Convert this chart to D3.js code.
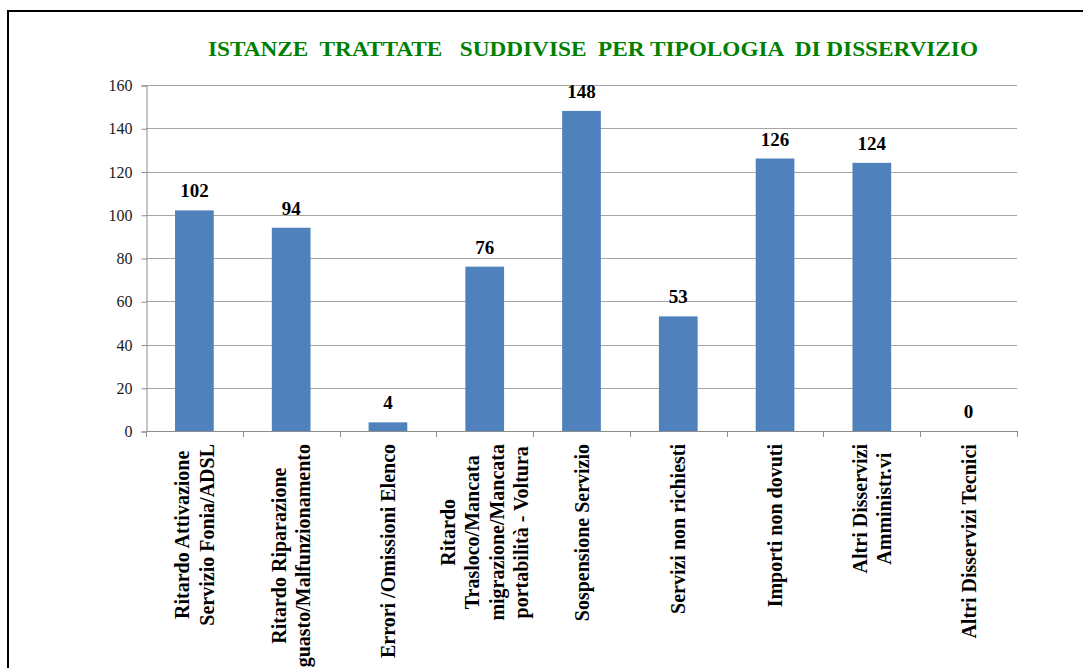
<!DOCTYPE html>
<html>
<head>
<meta charset="utf-8">
<script src="https://cdn.jsdelivr.net/npm/d3@7"></script>
<style>
  body { margin: 0; background: #fff; }
  svg { display: block; }
</style>
</head>
<body>
<script>
var categories = [
  ["Ritardo Attivazione", "Servizio Fonia/ADSL"],
  ["Ritardo Riparazione", "guasto/Malfunzionamento"],
  ["Errori /Omissioni Elenco"],
  ["Ritardo", "Trasloco/Mancata", "migrazione/Mancata", "portabilità - Voltura"],
  ["Sospensione Servizio"],
  ["Servizi non richiesti"],
  ["Importi non dovuti"],
  ["Altri Disservizi", "Amministr.vi"],
  ["Altri Disservizi Tecnici"]
];
var values = [102, 94, 4, 76, 148, 53, 126, 124, 0];
var yTicks = [0, 20, 40, 60, 80, 100, 120, 140, 160];
var title = "ISTANZE  TRATTATE   SUDDIVISE  PER TIPOLOGIA  DI DISSERVIZIO";

var W = 1083, H = 668;
var plotLeft = 146, plotRight = 1017, plotTop = 85, plotBottom = 431;
var serif = "'Liberation Serif', 'Times New Roman', serif";

var svg = d3.select("body").append("svg")
  .attr("width", W).attr("height", H);

// frame
svg.append("rect")
  .attr("x", 8).attr("y", 11)
  .attr("width", W + 20).attr("height", H + 20)
  .attr("fill", "none").attr("stroke", "#000").attr("stroke-width", 2);

// title
svg.append("text")
  .attr("x", 208).attr("y", 56)
  .attr("textLength", 770).attr("lengthAdjust", "spacingAndGlyphs")
  .style("white-space", "pre")
  .attr("font-family", serif).attr("font-weight", "bold").attr("font-size", "21px")
  .attr("fill", "#008000")
  .text(title);

var x = d3.scaleBand()
  .domain(d3.range(categories.length))
  .range([plotLeft, plotRight])
  .paddingInner(0.6).paddingOuter(0.3);

var y = d3.scaleLinear().domain([0, 160]).range([plotBottom, plotTop]);

// gridlines
svg.selectAll("line.grid")
  .data(yTicks.slice(1))
  .enter().append("line")
  .attr("class", "grid")
  .attr("x1", plotLeft).attr("x2", plotRight)
  .attr("y1", function(d) { return Math.round(y(d)) + 0.5; })
  .attr("y2", function(d) { return Math.round(y(d)) + 0.5; })
  .attr("stroke", "#a6a6a6").attr("stroke-width", 1);

// y axis
var yAxis = svg.append("g")
  .attr("transform", "translate(" + (plotLeft + 0.5) + ",0.5)")
  .call(d3.axisLeft(y).tickValues(yTicks).tickSize(5).tickPadding(9));
yAxis.selectAll("path, line").attr("stroke", "#8c8c8c");
yAxis.selectAll("text")
  .attr("font-family", serif).attr("font-size", "16px").attr("fill", "#1a1a1a");

// x axis line and ticks at band boundaries
var step = x.step();
var bounds = d3.range(categories.length + 1).map(function(i) { return plotLeft + i * step; });
svg.append("line")
  .attr("x1", plotLeft).attr("x2", plotRight)
  .attr("y1", plotBottom + 0.5).attr("y2", plotBottom + 0.5)
  .attr("stroke", "#8c8c8c");
svg.selectAll("line.xtick")
  .data(bounds)
  .enter().append("line")
  .attr("class", "xtick")
  .attr("x1", function(d) { return Math.round(d) + 0.5; })
  .attr("x2", function(d) { return Math.round(d) + 0.5; })
  .attr("y1", plotBottom).attr("y2", plotBottom + 6)
  .attr("stroke", "#8c8c8c");

// bars
svg.selectAll("rect.bar")
  .data(values)
  .enter().append("rect")
  .attr("class", "bar")
  .attr("x", function(d, i) { return x(i); })
  .attr("width", x.bandwidth())
  .attr("y", function(d) { return y(d); })
  .attr("height", function(d) { return y(0) - y(d); })
  .attr("fill", "#4f81bd");

// value labels
svg.selectAll("text.val")
  .data(values)
  .enter().append("text")
  .attr("class", "val")
  .attr("x", function(d, i) { return x(i) + x.bandwidth() / 2; })
  .attr("y", function(d) { return y(d) - 13; })
  .attr("text-anchor", "middle")
  .attr("font-family", serif).attr("font-weight", "bold").attr("font-size", "19px")
  .attr("fill", "#000")
  .text(function(d) { return d; });

// category labels, rotated, lines centred, block hanging from the axis
var lineGap = 24.5;
var labelTop = 444;
var fontSize = 20;
var ctx = document.createElement("canvas").getContext("2d");
ctx.font = "bold " + fontSize + "px 'Liberation Serif'";

categories.forEach(function(lines, i) {
  var cx = x(i) + x.bandwidth() / 2;
  var maxLen = d3.max(lines, function(s) { return ctx.measureText(s).width; });
  var midY = labelTop + maxLen / 2;
  var g = svg.append("g")
    .attr("transform", "translate(" + cx + "," + midY + ") rotate(-90)");
  lines.forEach(function(s, j) {
    var off = (j - (lines.length - 1) / 2) * lineGap;
    g.append("text")
      .attr("x", 0).attr("y", off)
      .attr("dy", "0.35em")
      .attr("text-anchor", "middle")
      .attr("font-family", serif).attr("font-weight", "bold").attr("font-size", fontSize + "px")
      .attr("fill", "#000")
      .text(s);
  });
});
</script>
</body>
</html>
